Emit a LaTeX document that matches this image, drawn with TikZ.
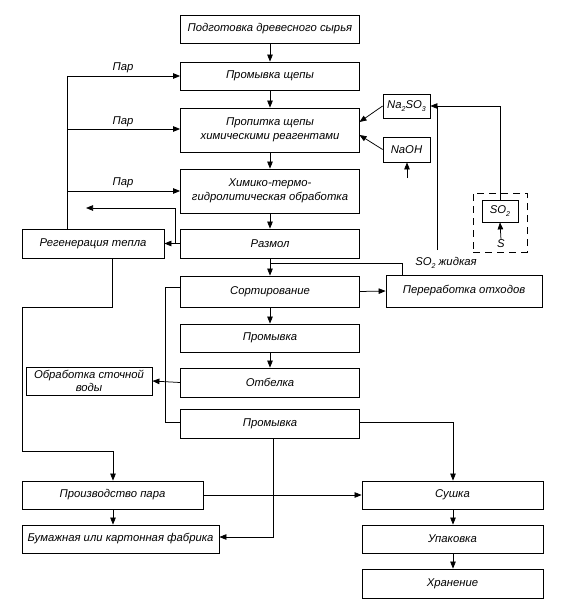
\documentclass[tikz,border=0pt]{standalone}
\usepackage{fontspec}
\setmainfont{Liberation Sans}
\usetikzlibrary{arrows.meta}
\newcommand{\sbs}[1]{\raisebox{-0.45ex}{\scriptsize #1}}
\begin{document}
\begin{tikzpicture}[x=1pt,y=-1pt,
  box/.style={draw,line width=0.8pt,inner sep=1pt,align=center,font=\fontsize{11.3}{13.5}\selectfont\itshape},
  lbl/.style={font=\fontsize{11.3}{13.5}\selectfont\itshape,inner sep=0pt},
  ln/.style={line width=0.75pt},
  arr/.style={ln,-{Triangle[length=7pt,width=5.5pt]}}]
\useasboundingbox (0,0) rectangle (560,607);
% boxes
\node[box,minimum width=179,minimum height=28] (prep) at (270,29) {Подготовка древесного сырья};
\node[box,minimum width=179,minimum height=28] (wash1) at (270,76) {Промывка щепы};
\node[box,minimum width=179,minimum height=44] (imp) at (270,130) {Пропитка щепы\\химическими реагентами};
\node[box,minimum width=179,minimum height=44] (chem) at (270,191) {Химико-термо-\\гидролитическая обработка};
\node[box,minimum width=179,minimum height=29] (mill) at (270,243.5) {Размол};
\node[box,minimum width=142,minimum height=29] (regen) at (93,243.5) {Регенерация тепла};
\node[box,minimum width=179,minimum height=31] (sort) at (270,291.5) {Сортирование};
\node[box,minimum width=156,minimum height=32] (waste) at (464,291) {Переработка отходов};
\node[box,minimum width=179,minimum height=28] (wash2) at (270,338) {Промывка};
\node[box,minimum width=179,minimum height=29] (bleach) at (270,382.5) {Отбелка};
\node[box,minimum width=126,minimum height=28] (water) at (89,381) {Обработка сточной\\воды};
\node[box,minimum width=179,minimum height=29] (wash3) at (270,423.5) {Промывка};
\node[box,minimum width=181,minimum height=28] (steam) at (112.5,495) {Производство пара};
\node[box,minimum width=197,minimum height=28] (paper) at (120.5,539) {Бумажная или картонная фабрика};
\node[box,minimum width=181,minimum height=28] (dry) at (452.5,495) {Сушка};
\node[box,minimum width=181,minimum height=28] (pack) at (452.5,539) {Упаковка};
\node[box,minimum width=181,minimum height=29] (store) at (452.5,583.5) {Хранение};
\node[box,minimum width=47,minimum height=24,inner sep=0pt] (na) at (406.5,106) {Na\sbs{2}SO\sbs{3}};
\node[box,minimum width=47,minimum height=25] (naoh) at (406.5,149.5) {NaOH};
\node[box,minimum width=36,minimum height=22] (so2) at (500,211) {SO\sbs{2}};
\node[draw,dashed,dash pattern=on 7pt off 5pt,line width=0.8pt,minimum width=54,minimum height=59,inner sep=0pt] (grp) at (500,222.5) {};
\node[lbl] (s) at (501,244) {S};
\node[lbl] (liq) at (446,263) {SO\sbs{2} жидкая};
\node[lbl] (p1) at (123,68) {Пар};
\node[lbl] (p2) at (123,122) {Пар};
\node[lbl] (p3) at (123,183) {Пар};
% coordinates
\coordinate (ltop) at (67,76);
\coordinate (l2) at (67,129);
\coordinate (l3) at (67,191);
\coordinate (hb) at (175,243.5);
\coordinate (ht) at (175,208);
\coordinate (hout) at (86,208);
\coordinate (r1) at (112,258);
\coordinate (r2) at (112,307);
\coordinate (r3) at (22,307);
\coordinate (r4) at (22,451);
\coordinate (r5) at (113,451);
\coordinate (sv0) at (180.5,287);
\coordinate (sv1) at (165,287);
\coordinate (sv2) at (165,422);
\coordinate (w3r) at (453,422);
\coordinate (w3b) at (273,537);
\coordinate (m1) at (270,263);
\coordinate (m2) at (402,263);
\coordinate (liqtop) at (437,250);
\coordinate (liqc) at (437,106);
\coordinate (so2c) at (500,106);
\coordinate (naohin) at (407,178);
\coordinate (imp1) at (359.5,122);
\coordinate (imp2) at (359.5,135);
% main column
\draw[arr] (prep) -- (wash1);
\draw[arr] (wash1) -- (imp);
\draw[arr] (imp) -- (chem);
\draw[arr] (chem) -- (mill);
\draw[arr] (mill) -- (sort);
\draw[arr] (sort) -- (wash2);
\draw[arr] (wash2) -- (bleach);
% steam lines
\draw[ln] (ltop) -- (regen.north -| ltop);
\draw[arr] (ltop) -- (wash1.west);
\draw[arr] (l2) -- (l2 -| imp.west);
\draw[arr] (l3) -- (l3 -| chem.west);
% heat regeneration
\draw[arr] (mill.west) -- (regen.east);
\draw[arr] (hb) -- (ht) -- (hout);
\draw[arr] (r1) -- (r2) -- (r3) -- (r4) -- (r5) -- (r5 |- steam.north);
% sorting / washing loop
\draw[ln] (sort.west |- sv0) -- (sv1) -- (sv2) -- (sv2 -| wash3.west);
\draw[arr] (bleach.west) -- (water.east);
\draw[arr] (sort.east) -- (waste.west);
\draw[ln] (m1) -- (m2) -- (m2 |- waste.north);
% bottom
\draw[arr] (wash3.east |- w3r) -- (w3r) -- (dry.north -| w3r);
\draw[arr] (wash3.south -| w3b) -- (w3b) -- (w3b -| paper.east);
\draw[arr] (steam.east) -- (dry.west);
\draw[arr] (steam.south -| r5) -- (paper.north -| r5);
\draw[arr] (dry.south -| w3r) -- (pack.north -| w3r);
\draw[arr] (pack.south -| w3r) -- (store.north -| w3r);
% chemicals
\draw[arr] (na.west) -- (imp1);
\draw[arr] (naoh.west) -- (imp2);
\draw[arr] (naohin) -- (naoh.south -| naohin);
\draw[arr] (so2.north) -- (so2c) -- (na.east);
\draw[ln] (liqtop) -- (liqc);
\draw[arr] (s.north) -- (so2.south);
\end{tikzpicture}
\end{document}
